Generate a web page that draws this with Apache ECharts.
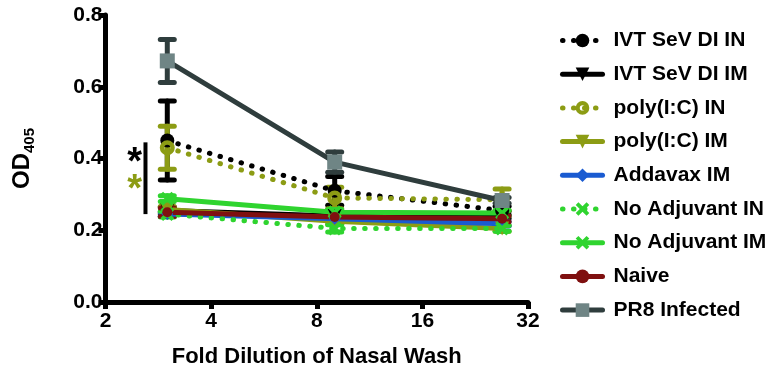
<!DOCTYPE html>
<html>
<head>
    <meta charset="UTF-8" />
    <title>Nasal wash OD405</title>
    <script src="https://cdn.jsdelivr.net/npm/echarts@6/dist/echarts.min.js"></script>
    <style>
        html, body { margin: 0; padding: 0; background: #fff; }
        #main { width: 775px; height: 377px; }
    </style>
</head>
<body>
<div id="main"></div>
<script>
var chart = echarts.init(document.getElementById('main'));

/* fold dilutions */
var dilutions = [3, 9, 27];
var xTicks = [2, 4, 8, 16, 32];

/* mean OD405 per group, and error (SEM) */
var ivtIN      = [0.45, 0.31, 0.255];
var ivtINErr   = [0.11, 0.04, 0.012];
var ivtIM      = [0.255, 0.24, 0.243];
var ivtIMErr   = [0.01, 0.01, 0.01];
var polyIN     = [0.43, 0.29, 0.285];
var polyINErr  = [0.06, 0.03, 0.03];
var polyIM     = [0.258, 0.225, 0.205];
var polyIMErr  = [0.008, 0.008, 0.008];
var addavaxIM  = [0.245, 0.232, 0.218];
var addavaxErr = [0.006, 0.006, 0.006];
var noAdjIN    = [0.245, 0.205, 0.205];
var noAdjINErr = [0.008, 0.01, 0.008];
var noAdjIM    = [0.288, 0.25, 0.248];
var noAdjIMErr = [0.008, 0.008, 0.008];
var naive      = [0.25, 0.237, 0.232];
var naiveErr   = [0.012, 0.008, 0.008];
var pr8        = [0.672, 0.39, 0.283];
var pr8Err     = [0.06, 0.028, 0.008];

/* significance bar: x, y from, y to; asterisks: x, y */
var sigBar = [2.6, 0.245, 0.445];
var sigStars = [[2.42, 0.385, '#000'], [2.42, 0.31, '#8c9c14']];

var FONT = '"Liberation Sans", Arial, sans-serif';
var OLIVE = '#8c9c14';
var GREEN = '#2fd42f';

function pts(ys) {
    return dilutions.map(function (x, i) { return [x, ys[i]]; });
}
function errPts(ys, es) {
    return dilutions.map(function (x, i) { return [x, ys[i], es[i]]; });
}

var xShape = 'path://M2,0 L5,3 L8,0 L10,2 L7,5 L10,8 L8,10 L5,7 L2,10 L0,8 L3,5 L0,2 Z';
var ring = 'path://M10,0 A10,10 0 1,1 10,20 A10,10 0 1,1 10,0 Z M10,6 A4,4 0 1,0 10,14 A4,4 0 1,0 10,6 Z';

var groups = [
    { name: 'IVT SeV DI IN', y: ivtIN, e: ivtINErr, color: '#000', dotted: true, symbol: 'circle', size: 14 },
    { name: 'IVT SeV DI IM', y: ivtIM, e: ivtIMErr, color: '#000', symbol: 'triangle', rotate: 180, size: 14 },
    { name: 'poly(I:C) IN', y: polyIN, e: polyINErr, color: OLIVE, dotted: true, symbol: ring, size: 15 },
    { name: 'poly(I:C) IM', y: polyIM, e: polyIMErr, color: OLIVE, symbol: 'triangle', rotate: 180, size: 14 },
    { name: 'Addavax IM', y: addavaxIM, e: addavaxErr, color: '#1a5bd1', symbol: 'diamond', size: 12 },
    { name: 'No Adjuvant IN', y: noAdjIN, e: noAdjINErr, color: GREEN, dotted: true, symbol: xShape, size: 14 },
    { name: 'No Adjuvant IM', y: noAdjIM, e: noAdjIMErr, color: GREEN, symbol: xShape, size: 14 },
    { name: 'Naive', y: naive, e: naiveErr, color: '#7f1010', symbol: 'circle', size: 10 },
    { name: 'PR8 Infected', y: pr8, e: pr8Err, color: '#2f3d3d', fill: '#6f8585', symbol: 'rect', size: 15 }
];

var series = [];

groups.forEach(function (g, gi) {
    series.push({
        name: 'err' + gi,
        type: 'custom',
        z: 2,
        silent: true,
        data: errPts(g.y, g.e),
        renderItem: function (params, api) {
            var x = api.value(0), y = api.value(1), e = api.value(2);
            var top = api.coord([x, y + e]);
            var bot = api.coord([x, y - e]);
            var st = { stroke: g.color, lineWidth: 5, lineCap: 'round' };
            return {
                type: 'group',
                children: [
                    { type: 'line', shape: { x1: top[0], y1: top[1], x2: bot[0], y2: bot[1] }, style: st },
                    { type: 'line', shape: { x1: top[0] - 7, y1: top[1], x2: top[0] + 7, y2: top[1] }, style: st },
                    { type: 'line', shape: { x1: bot[0] - 7, y1: bot[1], x2: bot[0] + 7, y2: bot[1] }, style: st }
                ]
            };
        }
    });
});

groups.forEach(function (g) {
    series.push({
        name: g.name,
        type: 'line',
        z: 3,
        data: pts(g.y),
        symbol: g.symbol,
        symbolSize: g.size,
        symbolRotate: g.rotate || 0,
        showAllSymbol: true,
        lineStyle: {
            color: g.color,
            width: 5,
            type: g.dotted ? [0.5, 10.5] : 'solid',
            cap: 'round'
        },
        itemStyle: {
            color: g.fill || g.color,
            borderWidth: 0
        },
        emphasis: { disabled: true },
        animation: false
    });
});

/* significance annotation */
series.push({
    name: 'sig',
    type: 'custom',
    silent: true,
    z: 4,
    data: [sigBar],
    renderItem: function (params, api) {
        var a = api.coord([api.value(0), api.value(1)]);
        var b = api.coord([api.value(0), api.value(2)]);
        var kids = [
            { type: 'line', shape: { x1: a[0], y1: a[1], x2: b[0], y2: b[1] },
              style: { stroke: '#000', lineWidth: 4 } }
        ];
        sigStars.forEach(function (s) {
            var p = api.coord([s[0], s[1]]);
            kids.push({ type: 'text', x: p[0], y: p[1],
                style: { text: '*', fill: s[2], font: 'bold 38px ' + FONT, align: 'center', verticalAlign: 'middle' } });
        });
        return { type: 'group', children: kids };
    }
});

var option = {
    backgroundColor: '#fff',
    animation: false,
    grid: { left: 105, right: 247, top: 15, bottom: 75, containLabel: false },
    legend: {
        orient: 'vertical',
        left: 555,
        top: 25,
        itemWidth: 40,
        itemHeight: 17,
        itemGap: 12.7,
        data: groups.map(function (g) { return g.name; }),
        lineStyle: { width: 5 },
        textStyle: { fontFamily: FONT, fontWeight: 'bold', fontSize: 21, color: '#000', lineHeight: 20, padding: [0, 0, 0, 6] }
    },
    xAxis: {
        type: 'log',
        logBase: 2,
        min: xTicks[0],
        max: xTicks[xTicks.length - 1],
        name: 'Fold Dilution of Nasal Wash',
        nameLocation: 'middle',
        nameGap: 44,
        nameTextStyle: { fontFamily: FONT, fontWeight: 'bold', fontSize: 22, color: '#000' },
        axisLine: { lineStyle: { color: '#000', width: 5 } },
        axisTick: { length: 7, lineStyle: { color: '#000', width: 5 } },
        axisLabel: { fontFamily: FONT, fontWeight: 'bold', fontSize: 21, color: '#000', margin: 9,
            formatter: function (v) { return String(Math.round(v)); } },
        splitLine: { show: false },
        minorTick: { show: false }
    },
    yAxis: {
        type: 'value',
        min: 0,
        max: 0.8,
        interval: 0.2,
        name: '{a|OD}{b|405}',
        nameLocation: 'middle',
        nameRotate: 90,
        nameGap: 68,
        nameTextStyle: {
            rich: {
                a: { fontFamily: FONT, fontWeight: 'bold', fontSize: 24, color: '#000', lineHeight: 30 },
                b: { fontFamily: FONT, fontWeight: 'bold', fontSize: 15, color: '#000', lineHeight: 30, padding: [14, 0, 0, 0] }
            }
        },
        axisLine: { show: true, lineStyle: { color: '#000', width: 5 } },
        axisTick: { show: true, length: 7, lineStyle: { color: '#000', width: 5 } },
        axisLabel: { fontFamily: FONT, fontWeight: 'bold', fontSize: 21, color: '#000', margin: 3,
            formatter: function (v) { return v.toFixed(1); } },
        splitLine: { show: false }
    },
    series: series
};

chart.setOption(option);
</script>
</body>
</html>
